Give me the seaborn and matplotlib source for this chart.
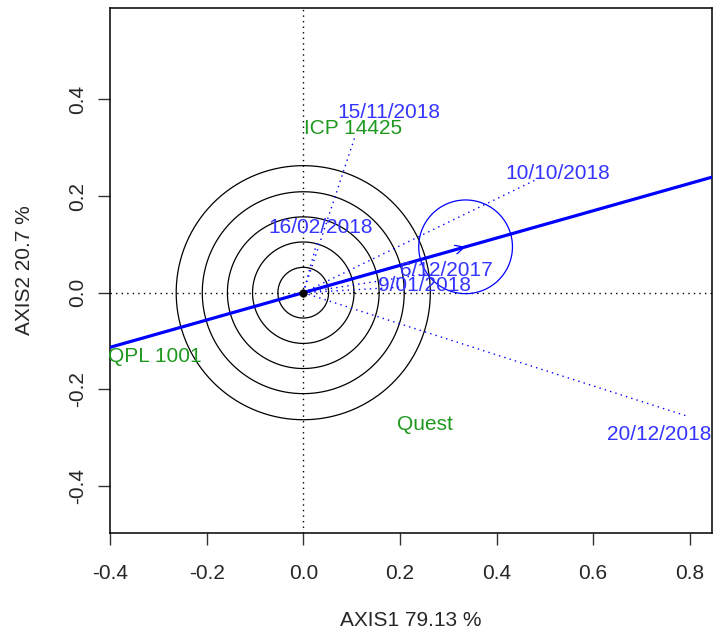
import numpy as np
import pandas as pd
import matplotlib
matplotlib.use("Agg")
import matplotlib.pyplot as plt
import seaborn as sns

# Environment scores (end points of the environment vectors)
env_names = ["15/11/2018", "10/10/2018", "16/02/2018", "6/12/2017", "9/01/2018", "20/12/2018"]
env_x = [0.108, 0.488, 0.030, 0.260, 0.210, 0.799]
env_y = [0.326, 0.237, 0.110, 0.040, 0.012, -0.257]

# Genotype scores
gen_names = ["ICP 14425", "QPL 1001", "Quest"]
gen_x = [0.103, -0.307, 0.252]
gen_y = [0.344, -0.129, -0.269]

# Average environment coordinate and the radius of its circle
avg_env = (0.336, 0.095)
avg_radius = 0.097

# Radii of the concentric circles around the origin
ring_radii = [0.0525, 0.105, 0.157, 0.209, 0.263]

# Axis labels and ticks
x_label = "AXIS1 79.13 %"
y_label = "AXIS2 20.7 %"
x_ticks = [-0.4, -0.2, 0.0, 0.2, 0.4, 0.6, 0.8]
y_ticks = [-0.4, -0.2, 0.0, 0.2, 0.4]

# Where the environment names are written (label centres)
env_label_pos = [(0.177, 0.378), (0.526, 0.250), (0.036, 0.140),
                 (0.296, 0.050), (0.250, 0.019), (0.736, -0.290)]

sns.set_style("white")
plt.rcParams["font.family"] = ["Liberation Sans", "DejaVu Sans"]
plt.rcParams["font.size"] = 15

BLUE = "#0000ff"
TXT_BLUE = "#3434ff"
GREEN = "#1e981e"

fig = plt.figure(figsize=(7.13, 6.32), dpi=100)
ax = fig.add_axes([110 / 713, 1 - 533 / 632, 602 / 713, 525 / 632])
ax.set_xlim(-0.4, 0.846)
ax.set_ylim(-0.4975, 0.5894)

# Reference lines through the origin
ax.axhline(0, color="black", lw=1, ls=(0, (1, 3)), zorder=1)
ax.axvline(0, color="black", lw=1, ls=(0, (1, 3)), zorder=1)

# Concentric circles
theta = np.linspace(0, 2 * np.pi, 400)
for r in ring_radii:
    ax.plot(r * np.cos(theta), r * np.sin(theta), color="black", lw=0.9, zorder=2)

# Environment vectors from the origin
vec = pd.DataFrame({
    "env": np.repeat(env_names, 2),
    "x": np.ravel([[0.0, x] for x in env_x]),
    "y": np.ravel([[0.0, y] for y in env_y]),
})
sns.lineplot(data=vec, x="x", y="y", units="env", estimator=None, sort=False,
             color=BLUE, lw=1, dashes=False, ax=ax, zorder=3, legend=False)
for line in ax.lines[-len(env_names):]:
    line.set_linestyle((0, (1, 3)))

# Average environment axis
ax.axline((0, 0), avg_env, color=BLUE, lw=2.3, zorder=4)
ax.annotate("", xy=avg_env, xytext=(0, 0),
            arrowprops=dict(arrowstyle="->", color=BLUE, lw=0.9,
                            mutation_scale=16, shrinkA=0, shrinkB=0),
            zorder=4)
ax.plot(avg_env[0] + avg_radius * np.cos(theta),
        avg_env[1] + avg_radius * np.sin(theta), color=BLUE, lw=0.9, zorder=4)

# Origin point
sns.scatterplot(x=[0.0], y=[0.0], color="black", s=30, edgecolor="black",
                ax=ax, zorder=5)

# Labels
for name, (lx, ly) in zip(env_names, env_label_pos):
    ax.text(lx, ly - 0.004, name, color=TXT_BLUE, ha="center", va="center",
            fontsize=15, zorder=6)
for name, gx, gy in zip(gen_names, gen_x, gen_y):
    ax.text(gx, gy - 0.004, name, color=GREEN, ha="center", va="center",
            fontsize=15, zorder=6)

ax.set_xticks(x_ticks)
ax.set_yticks(y_ticks)
ax.set_xticklabels([f"{t:.1f}" for t in x_ticks])
ax.set_yticklabels([f"{t:.1f}" for t in y_ticks], rotation=90, va="center")
ax.tick_params(direction="out", length=8.6, width=1, color="#333333",
               labelsize=15, left=True, bottom=True)
ax.tick_params(axis="x", pad=14)
ax.tick_params(axis="y", pad=8)
for s in ax.spines.values():
    s.set_color("black")
    s.set_linewidth(1.1)

ax.set_xlabel(x_label, fontsize=15, va="center")
ax.xaxis.set_label_coords(0.5, (533 - 620) / 525)
ax.set_ylabel(y_label, fontsize=15, va="center")
ax.yaxis.set_label_coords((25 - 110) / 602, 0.5)

fig.savefig("out.png", dpi=100)
